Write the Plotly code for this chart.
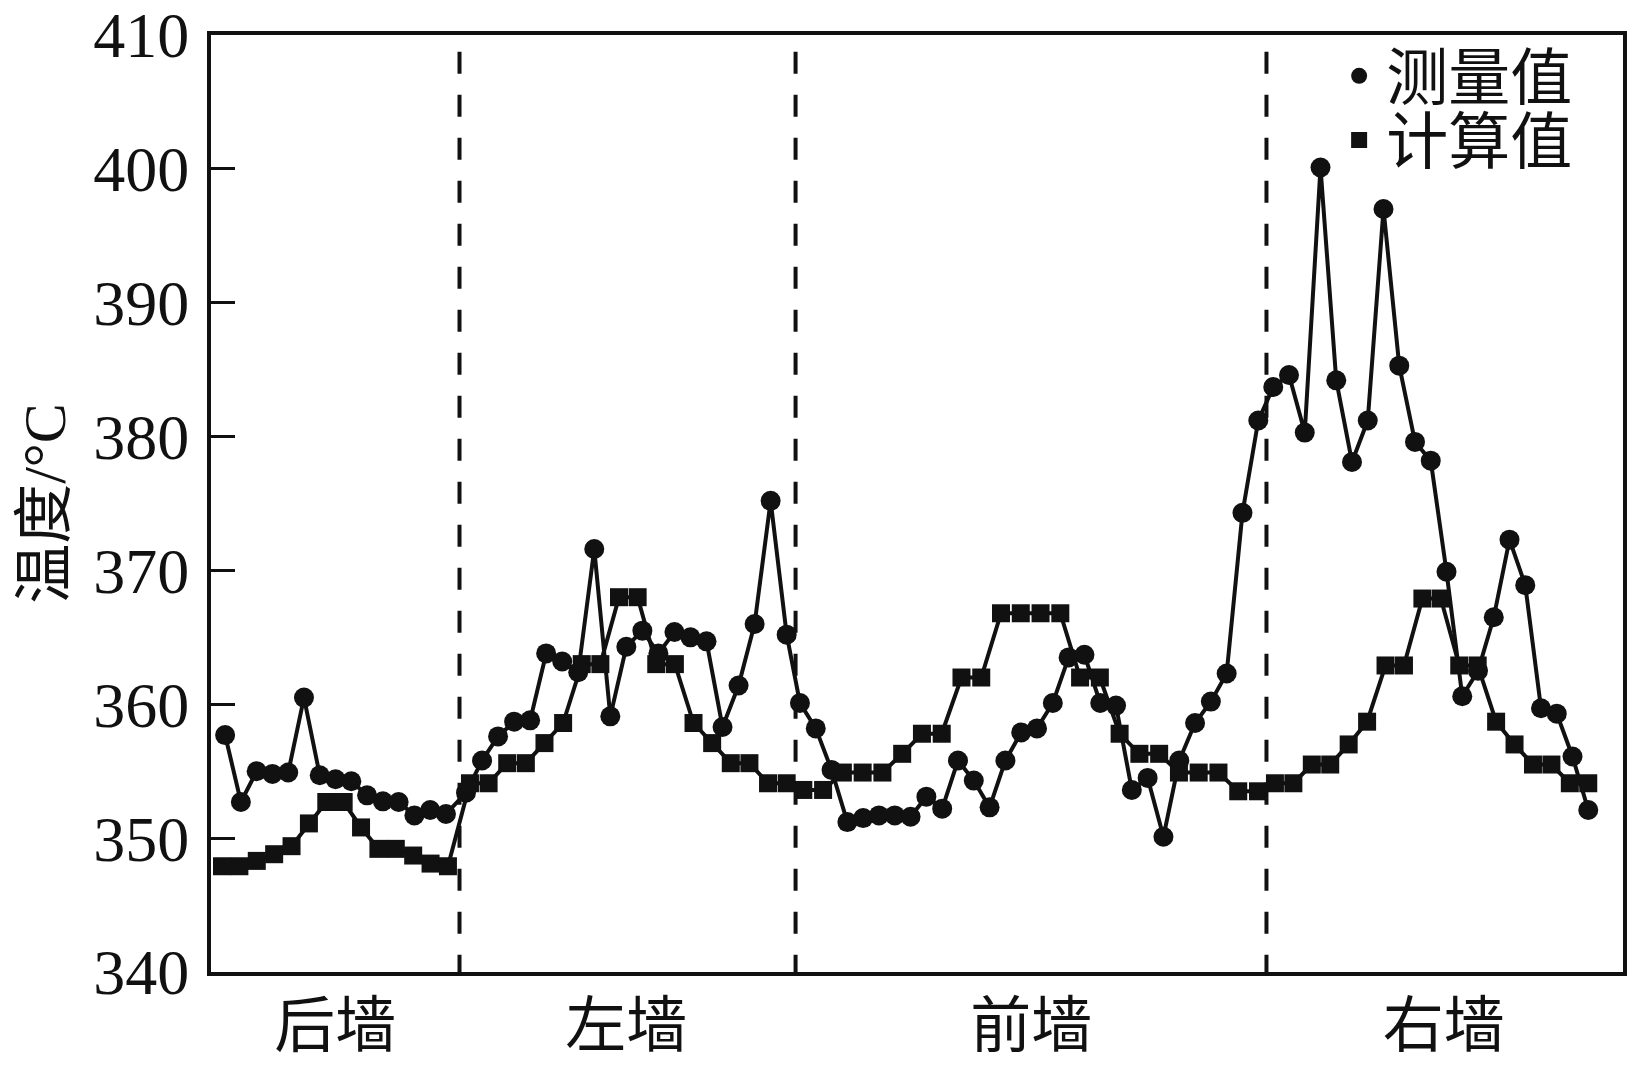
import numpy as np
import plotly.graph_objects as go

# ---------------- data ----------------
walls = ["后墙", "左墙", "前墙", "右墙"]
wall_label_pos = [8.8, 29.4, 58.1, 87.3]      # centre of each wall on the position axis
wall_dividers = [17.6, 41.4, 74.75]           # wall boundaries

# position span (start, end) of the sampling points on each wall
meas_span = [(1.0, 16.64), (18.06, 40.77), (41.71, 74.17), (75.23, 97.54)]
calc_span = [(0.78, 16.78), (18.34, 40.77), (41.95, 74.15), (75.35, 97.54)]

measured_back = [357.7, 352.7, 355.0, 354.8, 354.9, 360.5, 354.7, 354.4, 354.25,
                 353.2, 352.75, 352.7, 351.7, 352.1, 351.8]
measured_left = [353.4, 355.8, 357.6, 358.7, 358.8, 363.8, 363.2, 362.4, 371.6,
                 359.1, 364.3, 365.5, 363.8, 365.4, 365.0, 364.7, 358.3, 361.4,
                 366.0, 375.2, 365.2]
measured_front = [360.1, 358.2, 355.1, 351.2, 351.5, 351.7, 351.7, 351.6, 353.1,
                  352.2, 355.8, 354.3, 352.3, 355.8, 357.9, 358.2, 360.1, 363.5,
                  363.7, 360.1, 359.9, 353.6, 354.5, 350.1, 355.8, 358.6, 360.2,
                  362.3, 374.3, 381.2]
measured_right = [383.7, 384.6, 380.3, 400.1, 384.2, 378.1, 381.2, 397.0, 385.3,
                  379.6, 378.2, 369.9, 360.6, 362.5, 366.5, 372.3, 368.9, 359.7,
                  359.3, 356.1, 352.1]

calc_back = [347.9, 347.9, 348.3, 348.8, 349.4, 351.1, 352.7, 352.7, 350.8,
             349.2, 349.2, 348.7, 348.1, 347.9]
calc_left = [354.1, 354.1, 355.6, 355.6, 357.1, 358.6, 363.0, 363.0, 368.0,
             368.0, 363.0, 363.0, 358.6, 357.1, 355.6, 355.6, 354.1, 354.1]
calc_front = [353.6, 353.6, 354.9, 354.9, 354.9, 356.3, 357.8, 357.8, 362.0,
              362.0, 366.8, 366.8, 366.8, 366.8, 362.0, 362.0, 357.8, 356.3,
              356.3, 354.9, 354.9, 354.9, 353.5, 353.5]
calc_right = [354.1, 354.1, 355.5, 355.5, 357.0, 358.7, 362.9, 362.9, 367.9,
              367.9, 362.9, 362.9, 358.7, 357.0, 355.5, 355.5, 354.1, 354.1]

y_ticks = [340, 350, 360, 370, 380, 390, 400, 410]

measured = [measured_back, measured_left, measured_front, measured_right]
computed = [calc_back, calc_left, calc_front, calc_right]


def positions(spans, groups):
    return np.concatenate([np.linspace(a, b, len(g)) for (a, b), g in zip(spans, groups)])


meas_x = positions(meas_span, measured)
meas_y = np.concatenate(measured)
calc_x = positions(calc_span, computed)
calc_y = np.concatenate(computed)

INK = "#111111"
SERIF = "Liberation Serif, Noto Sans CJK SC"
CJK = "Noto Sans CJK SC"

fig = go.Figure()
fig.add_trace(go.Scatter(x=meas_x, y=meas_y, mode="lines+markers",
                         line=dict(color=INK, width=4),
                         marker=dict(symbol="circle", size=20, color=INK),
                         showlegend=False))
fig.add_trace(go.Scatter(x=calc_x, y=calc_y, mode="lines+markers",
                         line=dict(color=INK, width=4),
                         marker=dict(symbol="square", size=18, color=INK),
                         showlegend=False))
# legend entries (markers only), each in its own legend box
fig.add_trace(go.Scatter(x=[None], y=[None], mode="markers", name="测量值",
                         marker=dict(symbol="circle", size=18, color=INK),
                         legend="legend"))
fig.add_trace(go.Scatter(x=[None], y=[None], mode="markers", name="计算值",
                         marker=dict(symbol="square", size=16, color=INK),
                         legend="legend2"))

for d in wall_dividers:
    fig.add_shape(type="line", xref="x", yref="y domain", x0=d, x1=d, y0=0.982, y1=0,
                  line=dict(color=INK, width=4, dash="22px,21px"))

legend_style = dict(xanchor="left", yanchor="top",
                    font=dict(family=CJK, size=62, color=INK),
                    bgcolor="rgba(0,0,0,0)", itemwidth=44)

fig.update_layout(
    width=1639, height=1065,
    margin=dict(l=211, r=16, t=35, b=93),
    paper_bgcolor="white", plot_bgcolor="white",
    showlegend=True,
    legend=dict(x=0.794, y=1.0064, **legend_style),
    legend2=dict(x=0.794, y=0.938, **legend_style),
)
fig.update_xaxes(range=[0, 100], showgrid=False, zeroline=False, automargin=False,
                 showline=True, mirror=True, linecolor=INK, linewidth=4,
                 tickmode="array", tickvals=wall_label_pos, ticktext=walls, ticks="",
                 tickfont=dict(family=CJK, size=61, color=INK), ticklabelstandoff=-2,
                 ticklabeloverflow="allow")
fig.update_yaxes(range=[340, 410], tickmode="array", tickvals=y_ticks,
                 showgrid=False, zeroline=False, automargin=False,
                 showline=True, mirror=True, linecolor=INK, linewidth=4,
                 ticks="inside", ticklen=24, tickwidth=3, tickcolor=INK,
                 tickfont=dict(family="Liberation Serif", size=64, color=INK),
                 ticklabelstandoff=5, ticklabeloverflow="allow",
                 title=dict(text="温度/°C", font=dict(family=SERIF, size=60, color=INK),
                            standoff=9))

# remove the browser's default 8px page margin so the figure fills the window exactly
fig.write_html("out.html", config={"displayModeBar": False},
               post_script="document.body.style.margin='0';document.body.style.overflow='hidden';")
